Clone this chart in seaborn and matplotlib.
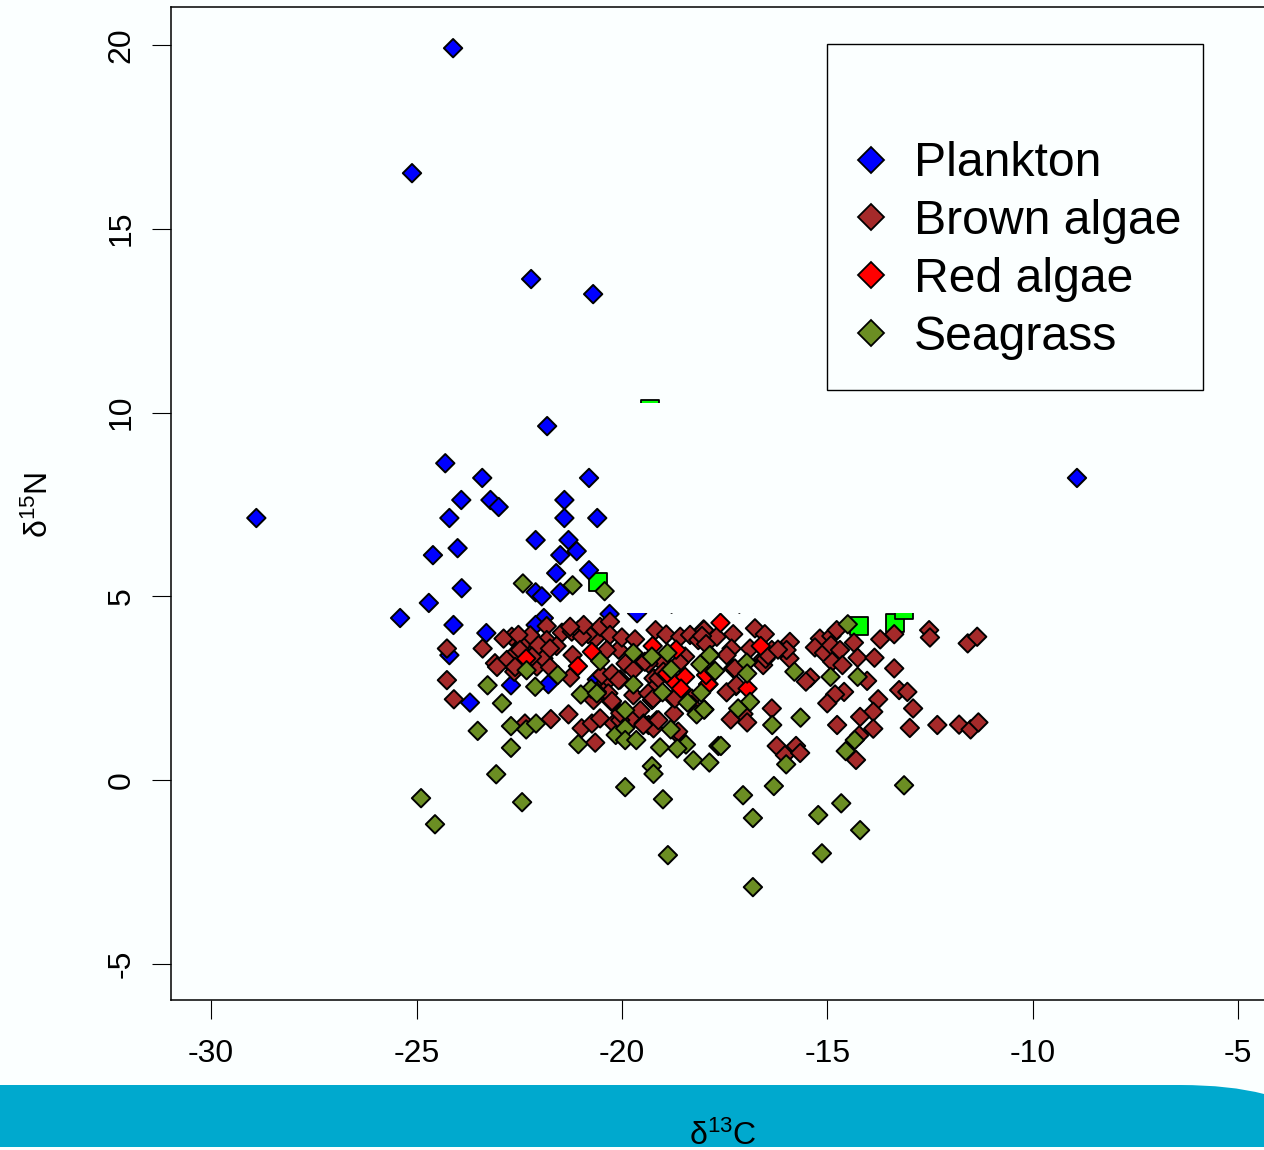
import numpy as np
import pandas as pd
import matplotlib
matplotlib.use("Agg")
import matplotlib.pyplot as plt
import matplotlib.transforms as mtransforms
from matplotlib.patches import Rectangle, PathPatch
from matplotlib.path import Path
import seaborn as sns

plankton_x = [-24.11,-25.11,-22.21,-20.70,-21.82,-24.30,-23.40,-20.80,-8.92,-23.91,-23.2,-23.0,-21.4,-24.2,-21.4,-20.6,-28.9,-22.1,-21.3,-24.0,-24.6,-21.5,-21.1,-21.6,-20.8,-23.9,-22.1,-21.95,-21.5,-24.7,-25.4,-20.3,-19.63,-24.1,-23.3,-21.9,-22.1,-24.2,-23.7,-22.7,-21.79,-20.61]
plankton_y = [19.91,16.51,13.63,13.22,9.63,8.62,8.22,8.22,8.22,7.62,7.62,7.43,7.62,7.13,7.13,7.13,7.13,6.53,6.53,6.31,6.12,6.12,6.23,5.63,5.71,5.22,5.11,5.0,5.11,4.82,4.41,4.52,4.54,4.22,4.0,4.41,4.22,3.40,2.11,2.58,2.61,2.74]

brown_x = [-24.26,-23.39,-24.26,-24.09,-23.09,-22.8,-22.68,-22.88,-22.36,-22.23,-22.56,-22.62,-22.11,-22.07,-21.91,-21.75,-21.83,-21.46,-21.22,-21.06,-21.83,-21.59,-21.2,-21.26,-20.65,-20.53,-20.29,-20.82,-20.29,-20.08,-20.0,-20.37,-19.68,-19.91,-19.72,-20.04,-20.41,-19.23,-20.45,-20.69,-20.25,-19.72,-19.27,-19.23,-18.74,-18.73,-18.3,-19.18,-18.92,-18.58,-18.34,-18.01,-18.14,-18.46,-18.99,-19.35,-17.69,-21.73,-21.3,-22.36,-20.98,-20.73,-20.53,-20.65,-20.2,-19.72,-19.35,-19.15,-19.23,-18.66,-20.04,
           -18.0,-17.29,-16.76,-16.52,-17.33,-17.45,-16.88,-16.35,-16.56,-16.56,-17.29,-17.22,-17.45,-15.91,-15.92,-15.99,-15.41,-15.52,-16.35,-17.35,-17.04,-16.95,-15.18,-15.3,-15.08,-14.9,-14.77,-14.91,-14.69,-14.88,-14.63,-14.35,-14.26,-13.85,-13.71,-13.37,-12.52,-12.5,-11.58,-11.35,-13.37,-14.03,-13.25,-13.05,-14.59,-14.81,-15.0,-13.76,-13.88,-14.2,-12.91,-14.76,-13.88,-12.99,-12.32,-11.79,-11.51,-11.32,-14.22,-14.3,-16.23,-15.76,-16.03,-15.66,-18.79,-17.14,
           -22.52,-22.03,-20.97,-20.93,-21.26,-21.75,-22.19,-22.48,-23.04,-22.6,-20.49,-20.33,-20.61,-20.24,-20.04,-19.55,-20.08,-20.24,-19.44,-19.11,-19.36,-18.3,-18.99,-19.24,-18.71,-18.63,-17.25,-17.21,-16.5,-16.44,-16.2,-18.05,-17.95,-18.6,-19.47,-19.11,-19.48]
brown_y = [3.58,3.58,2.72,2.2,3.18,3.27,3.9,3.85,3.72,3.94,3.49,2.95,3.54,3.09,3.31,3.07,4.19,4.01,4.04,4.08,3.81,3.65,3.4,2.79,3.85,4.17,4.31,3.97,3.95,3.55,3.88,3.54,3.83,3.17,2.99,2.74,2.63,2.77,2.4,2.18,2.13,2.31,2.18,2.49,2.22,1.81,2.22,4.08,3.96,3.9,3.95,4.1,3.81,3.36,3.17,3.17,3.9,1.66,1.79,1.54,1.41,1.54,1.68,1.02,1.54,1.66,1.5,1.63,1.41,1.27,1.63,
           4.08,3.97,4.13,3.97,3.58,3.4,3.58,3.54,3.31,3.13,3.04,2.56,2.39,3.76,3.31,3.54,2.79,2.68,1.95,1.65,1.8,1.57,3.85,3.61,3.46,3.92,4.08,3.67,3.54,3.22,3.13,3.74,3.33,3.33,3.83,3.97,4.08,3.88,3.72,3.9,3.04,2.70,2.45,2.4,2.4,2.33,2.09,2.2,1.86,1.72,1.95,1.5,1.4,1.42,1.5,1.51,1.38,1.57,1.22,0.55,0.93,0.93,0.68,0.74,4.8,4.8,
           3.95,3.67,3.9,4.22,4.17,3.58,3.36,3.54,3.08,3.08,2.86,2.36,2.4,2.9,1.82,1.9,2.72,2.15,3.22,2.77,2.36,2.04,2.95,2.22,2.22,1.32,3.04,2.59,3.3,3.4,3.55,3.92,3.7,3.2,1.54,1.63,1.5]

red_x = [-22.33,-21.07,-20.73,-19.25,-18.68,-18.73,-18.46,-18.56,-17.89,-17.6,-16.62,-17.9,-16.94,-17.95,-18.9,-16.8]
red_y = [3.31,3.10,3.49,3.65,3.55,2.68,2.81,2.49,2.61,4.28,3.65,2.61,2.49,2.86,2.9,4.82]

seagrass_x = [-22.41,-21.2,-20.42,-19.72,-19.27,-18.89,-17.85,-18.09,-17.75,-18.8,-20.53,-22.32,-21.56,-23.27,-22.11,-20.75,-21.0,-20.61,-19.72,-19.01,-18.07,-18.4,-17.99,-18.18,-19.92,-22.92,-22.7,-22.33,-22.09,-23.51,-20.15,-19.92,-19.92,-19.65,-18.81,-21.06,-19.07,-18.44,-18.65,-17.65,-22.7,-18.26,-17.87,-19.27,-19.23,-23.06,
              -14.5,-17.86,-16.96,-16.95,-17.73,-15.8,-14.92,-14.26,-16.88,-17.17,-18.0,-15.65,-16.34,-14.33,-14.55,-17.59,-16.0,
              -24.89,-24.55,-22.43,-19.92,-19.0,-18.88,-17.05,-16.81,-16.81,-16.3,-15.22,-15.13,-14.66,-14.2,-13.13]
seagrass_y = [5.35,5.3,5.14,3.46,3.36,3.46,3.40,3.15,2.96,3.01,3.24,2.99,2.86,2.58,2.54,2.49,2.33,2.36,2.6,2.39,2.38,2.11,1.92,1.79,1.9,2.09,1.47,1.38,1.54,1.34,1.23,1.41,1.09,1.09,1.38,0.98,0.89,0.97,0.86,0.93,0.88,0.54,0.48,0.38,0.17,0.16,
              4.24,3.4,3.2,2.9,2.97,2.95,2.81,2.81,2.13,1.95,1.92,1.7,1.5,1.09,0.79,0.93,0.43,
              -0.49,-1.2,-0.6,-0.19,-0.52,-2.04,-0.41,-1.03,-2.91,-0.16,-0.95,-1.99,-0.63,-1.36,-0.14]

green_x = [-20.58,-19.31,-14.23,-13.35,-13.12]
green_y = [5.39,10.09,4.2,4.28,4.64]

group_names = ["Plankton", "Brown algae", "Red algae", "Seagrass"]
group_colors = ["#0000FF", "#A52A2A", "#FF0000", "#6B8E23"]
x_ticks = [-30, -25, -20, -15, -10, -5]
y_ticks = [-5, 0, 5, 10, 15, 20]

df = pd.concat([
    pd.DataFrame({"d13C": plankton_x, "d15N": plankton_y, "group": group_names[0]}),
    pd.DataFrame({"d13C": brown_x, "d15N": brown_y, "group": group_names[1]}),
    pd.DataFrame({"d13C": red_x, "d15N": red_y, "group": group_names[2]}),
    pd.DataFrame({"d13C": seagrass_x, "d15N": seagrass_y, "group": group_names[3]}),
], ignore_index=True)
df_green = pd.DataFrame({"d13C": green_x, "d15N": green_y})

sns.set_theme(style="white")
BG = "#FBFFFF"
plt.rcParams["font.family"] = ["Liberation Sans", "DejaVu Sans"]
plt.rcParams["mathtext.fontset"] = "custom"
plt.rcParams["mathtext.rm"] = "Liberation Sans"
plt.rcParams["mathtext.default"] = "rm"
plt.rcParams["axes.unicode_minus"] = False

W, H = 1264, 1150
fig = plt.figure(figsize=(W / 100, H / 100), dpi=100, facecolor=BG)
px = mtransforms.Affine2D().scale(1 / W, -1 / H).translate(0, 1) + fig.transFigure

L, R, T, B = 170.5, 1300, 7, 1000
ax = fig.add_axes([L / W, 1 - B / H, (R - L) / W, (B - T) / H], facecolor=BG)

sns.scatterplot(data=df_green, x="d13C", y="d15N", marker="s", s=158, color="#00FF00",
                edgecolor="black", linewidth=1.3, legend=False, ax=ax, zorder=2)
sns.scatterplot(data=df, x="d13C", y="d15N", hue="group", hue_order=group_names,
                palette=group_colors, marker="D", s=88, edgecolor="black", linewidth=1.4,
                ax=ax, zorder=3)

ax.set_xlim(-30.99, -3.49)
ax.set_ylim(-5.98, 21.03)

# blanking rectangle present in the source image
ax.add_patch(Rectangle((-20.0, 4.54), 9.0, 5.72, facecolor=BG, edgecolor="none", zorder=4))

ax.set_xticks(x_ticks)
ax.set_yticks(y_ticks)
ax.tick_params(axis="both", length=14, width=0.8, color="black", labelsize=23,
               bottom=True, left=True, labelcolor="black")
ax.tick_params(axis="x", pad=14)
ax.tick_params(axis="y", pad=10.4)
for lab in ax.get_yticklabels():
    lab.set_rotation(90)
    lab.set_va("center")
for s in ax.spines.values():
    s.set_color("black")
    s.set_linewidth(1.1)

ax.set_xlabel("δ$^{13}$C", fontsize=23, color="black")
ax.set_ylabel("δ$^{15}$N", fontsize=23, color="black")
ax.xaxis.set_label_coords(723, 1152, transform=px)
ax.xaxis.label.set_va("bottom")
ax.yaxis.set_label_coords(55, 505, transform=px)

# legend: box and entries
ax.add_patch(Rectangle((827, 44), 376, 346, transform=px, facecolor=BG, edgecolor="black",
                       linewidth=1.0, zorder=5))
handles, labels = ax.get_legend_handles_labels()
leg = ax.legend(handles, labels, loc="upper left", bbox_to_anchor=(847, 141.5), bbox_transform=px,
                frameon=False, fontsize=34.7, labelspacing=0.265, handletextpad=0.39,
                handlelength=1.0, borderpad=0, borderaxespad=0)
for h in leg.legend_handles:
    h.set_markersize(13)
    h.set_markeredgecolor("black")
    h.set_markeredgewidth(1.3)
leg.set_zorder(6)
for t in leg.get_texts():
    t.set_color("black")

# teal footer band with rounded top-right corner
verts = [(0, 1085), (1180, 1085), (1230, 1085), (1264, 1094), (1264, 1147), (0, 1147), (0, 1085)]
codes = [Path.MOVETO, Path.LINETO, Path.CURVE3, Path.CURVE3, Path.LINETO, Path.LINETO, Path.CLOSEPOLY]
fig.add_artist(PathPatch(Path(verts, codes), transform=px, facecolor="#00A9CE", edgecolor="none", zorder=-1))

fig.savefig("out.png", dpi=100, facecolor=BG)
